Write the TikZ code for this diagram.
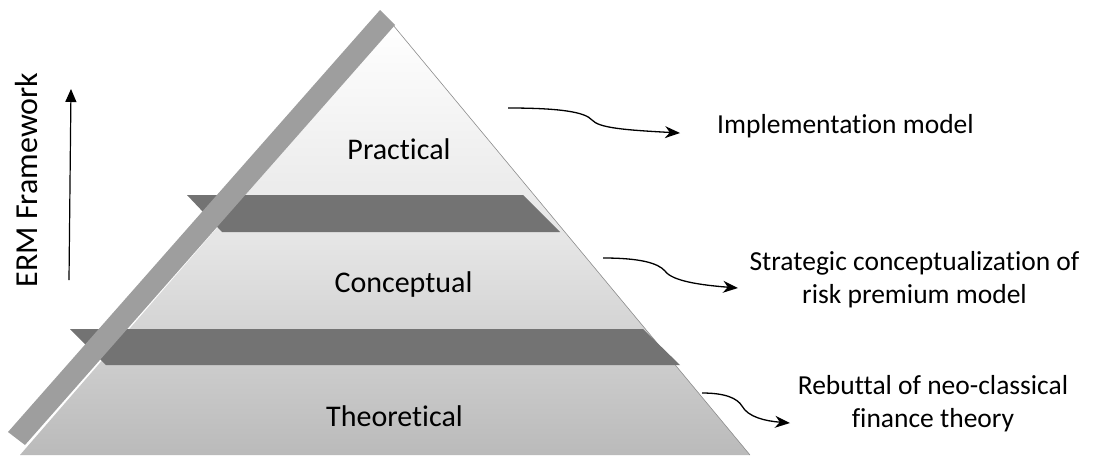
\documentclass[tikz,border=0pt]{standalone}
\usepackage{fontspec}
\setmainfont{Carlito}[Ligatures=NoCommon]
\usetikzlibrary{arrows.meta}
\begin{document}
\begin{tikzpicture}[x=1pt,y=-1pt,
  tierlabel/.style={font=\fontsize{30}{36}\selectfont, inner sep=0pt, anchor=base},
  sidelabel/.style={font=\fontsize{27.5}{33}\selectfont, inner sep=0pt, align=center},
  curvy/.style={line width=1.3pt, -{Stealth[length=15pt,width=12pt]}},
  ledge/.style={fill=black!55},
  sideband/.style={fill=black!38},
]
\useasboundingbox (0,0) rectangle (1095,461);
% pyramid body
\coordinate (apex) at (393,25);
\coordinate (bl) at (20,455);
\coordinate (br) at (750,455);
\shade[top color=white, bottom color=black!27, middle color=black!10] (apex) -- (br) -- (bl) -- cycle;
\draw[black!45, line width=0.6pt] (apex) -- (br);
% ledges
\fill[ledge] (187,195) -- (523,195) -- (560,232) -- (222,232) -- cycle;
\fill[ledge] (70,329) -- (643,329) -- (680,365) -- (106,365) -- cycle;
% left side band
\fill[sideband] (380,10) -- (395,25) -- (25,445) -- (8,432) -- cycle;
% tier labels
\node[tierlabel] (practical) at (399,159) {Practical};
\node[tierlabel] (conceptual) at (403.5,292) {Conceptual};
\node[tierlabel] (theoretical) at (394.5,426) {Theoretical};
% side labels (base anchor = baseline of last line)
\node[sidelabel, anchor=base west] (impl) at (717,133) {Implementation model};
\node[sidelabel, anchor=base] (strat) at (914.5,303) {Strategic conceptualization of\\risk premium model};
\node[sidelabel, anchor=base] (rebut) at (933,427) {Rebuttal of neo-classical\\finance theory};
% ERM axis
\node[rotate=90, anchor=base, inner sep=0pt, font=\fontsize{32}{38}\selectfont] (erm) at (37,180) {ERM Framework};
\coordinate (vb) at (69,280);
\coordinate (vt) at (71,89);
\draw[line width=1.2pt, -{Triangle[length=13pt,width=11pt]}] (vb) -- (vt);
% curvy arrows
\coordinate (s1) at (508,108);
\coordinate (t1) at (680,133);
\draw[curvy] (s1) .. controls (560,108) and (585,112) .. (592,120) .. controls (599,128) and (625,130) .. (t1);
\coordinate (s2) at (603,258);
\coordinate (t2) at (738,288);
\draw[curvy] (s2) .. controls (640,258) and (658,263) .. (665,271) .. controls (672,281) and (700,285) .. (t2);
\coordinate (s3) at (702,393);
\coordinate (t3) at (790,423);
\draw[curvy] (s3) .. controls (725,393) and (737,398) .. (742,406) .. controls (748,417) and (765,421) .. (t3);
\end{tikzpicture}
\end{document}
